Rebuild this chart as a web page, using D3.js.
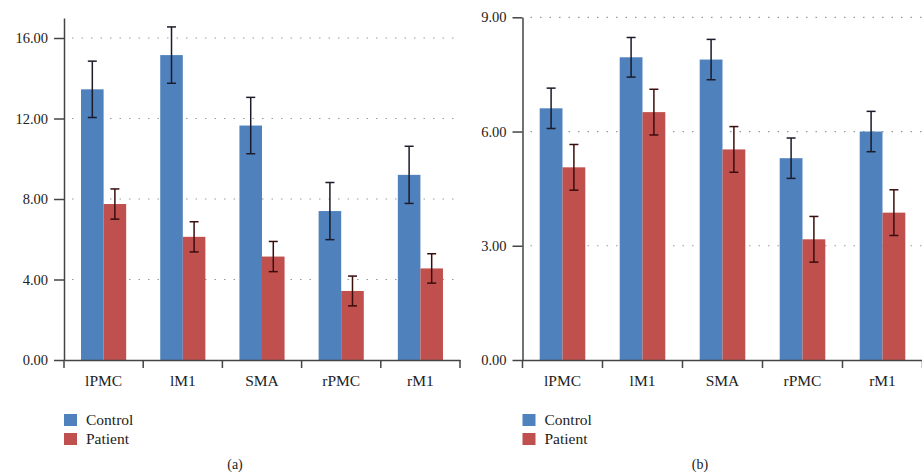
<!DOCTYPE html>
<html>
<head>
<meta charset="utf-8">
<script src="https://cdn.jsdelivr.net/npm/d3@7"></script>
<style>
  html, body { margin: 0; padding: 0; background: #fff; }
  svg { display: block; }
  svg text { font-family: "Liberation Serif", "Times New Roman", Times, "DejaVu Serif", serif !important; fill: #222; }
</style>
</head>
<body>
<svg id="chart" width="922" height="476"></svg>
<script>
// ---- data ----
const categories = ["lPMC", "lM1", "SMA", "rPMC", "rM1"];
const seriesNames = ["Control", "Patient"];

// Panel (a)
const controlA = [13.45, 15.15, 11.65, 7.4, 9.2];
const controlAErr = [1.4, 1.4, 1.4, 1.42, 1.42];
const patientA = [7.75, 6.12, 5.14, 3.43, 4.55];
const patientAErr = [0.75, 0.75, 0.75, 0.74, 0.73];
const ticksA = [0, 4, 8, 12, 16];
const maxA = 17;

// Panel (b)
const controlB = [6.61, 7.95, 7.89, 5.3, 6.0];
const controlBErr = [0.53, 0.52, 0.53, 0.53, 0.53];
const patientB = [5.06, 6.51, 5.53, 3.17, 3.87];
const patientBErr = [0.6, 0.6, 0.6, 0.6, 0.6];
const ticksB = [0, 3, 6, 9];
const maxB = 9;

const colors = { Control: "#4F81BD", Patient: "#C0504D" };
const FONT = "'Liberation Serif', 'Times New Roman', Times, 'DejaVu Serif', serif";

const svg = d3.select("#chart");

function drawPanel(opts) {
  const { x0, x1, yBottom, yTop, max, ticks, control, controlErr, patient, patientErr, caption, captionX } = opts;
  const g = svg.append("g");

  const x = d3.scaleBand().domain(categories).range([x0, x1]).padding(0);
  const bw = x.bandwidth();
  const xs = d3.scaleBand().domain(seriesNames).range([0.215 * bw, 0.785 * bw]).padding(0);
  const y = d3.scaleLinear().domain([0, max]).range([yBottom, yTop]);

  // gridlines
  g.append("g").selectAll("line")
    .data(ticks.filter(t => t > 0))
    .join("line")
    .attr("x1", x0 + 8).attr("x2", x1)
    .attr("y1", d => y(d)).attr("y2", d => y(d))
    .attr("stroke", "#9a9a9a")
    .attr("stroke-width", 1.2)
    .attr("stroke-dasharray", "1.5,8");

  const rows = categories.map((c, i) => ({
    cat: c,
    vals: [
      { s: "Control", v: control[i], e: controlErr[i] },
      { s: "Patient", v: patient[i], e: patientErr[i] }
    ]
  }));

  const groups = g.append("g").selectAll("g")
    .data(rows).join("g")
    .attr("transform", d => `translate(${x(d.cat)},0)`);

  groups.selectAll("rect")
    .data(d => d.vals).join("rect")
    .attr("x", d => xs(d.s))
    .attr("width", xs.bandwidth())
    .attr("y", d => y(d.v))
    .attr("height", d => y(0) - y(d.v))
    .attr("fill", d => colors[d.s]);

  // error bars
  const eb = groups.selectAll("g.eb")
    .data(d => d.vals).join("g").attr("class", "eb")
    .attr("stroke", d => d.s === "Control" ? "#1b1b2a" : "#3a0d0d")
    .attr("stroke-width", 1.5);
  eb.append("line")
    .attr("x1", d => xs(d.s) + xs.bandwidth() / 2)
    .attr("x2", d => xs(d.s) + xs.bandwidth() / 2)
    .attr("y1", d => y(d.v + d.e))
    .attr("y2", d => y(d.v - d.e));
  eb.append("line")
    .attr("x1", d => xs(d.s) + xs.bandwidth() / 2 - 4.5)
    .attr("x2", d => xs(d.s) + xs.bandwidth() / 2 + 4.5)
    .attr("y1", d => y(d.v + d.e)).attr("y2", d => y(d.v + d.e));
  eb.append("line")
    .attr("x1", d => xs(d.s) + xs.bandwidth() / 2 - 4.5)
    .attr("x2", d => xs(d.s) + xs.bandwidth() / 2 + 4.5)
    .attr("y1", d => y(d.v - d.e)).attr("y2", d => y(d.v - d.e));

  // y axis
  const yAxis = g.append("g")
    .attr("transform", `translate(${x0},0)`)
    .call(d3.axisLeft(y).tickValues(ticks).tickFormat(d3.format(".2f")).tickSize(10).tickSizeOuter(0).tickPadding(6));
  yAxis.attr("font-family", null).attr("font-size", null);
  yAxis.selectAll("path, line").attr("stroke", "#444").attr("stroke-width", 1.5);
  yAxis.selectAll("text").style("font-size", "14.5px").style("font-family", FONT).attr("fill", "#222");

  // x axis
  const xAxis = g.append("g")
    .attr("transform", `translate(0,${yBottom})`)
    .call(d3.axisBottom(x).tickSize(0).tickPadding(15));
  xAxis.attr("font-family", null).attr("font-size", null);
  xAxis.select("path").attr("stroke", "#444").attr("stroke-width", 1.5);
  xAxis.selectAll("text").style("font-size", "15.5px").style("font-family", FONT).attr("fill", "#222");
  const edges = categories.map(c => x(c)).concat([x(categories[categories.length - 1]) + bw]);
  xAxis.selectAll("line.edge").data(edges).join("line")
    .attr("class", "edge")
    .attr("x1", d => d).attr("x2", d => d)
    .attr("y1", 0).attr("y2", 8)
    .attr("stroke", "#444").attr("stroke-width", 1.5);

  // legend
  const leg = g.append("g").selectAll("g")
    .data(seriesNames).join("g")
    .attr("transform", (d, i) => `translate(${x0},${414 + i * 19})`);
  leg.append("rect").attr("width", 13).attr("height", 12).attr("fill", d => colors[d]);
  leg.append("text").attr("x", 22).attr("y", 10.5)
    .style("font-size", "15.5px").style("font-family", FONT).text(d => d);

  // caption
  g.append("text").attr("x", captionX).attr("y", 469).attr("text-anchor", "middle")
    .style("font-size", "14px").style("font-family", FONT).text(caption);
}

drawPanel({
  x0: 64, x1: 460, yBottom: 360, yTop: 360 - 17 * 20.125, max: maxA, ticks: ticksA,
  control: controlA, controlErr: controlAErr, patient: patientA, patientErr: patientAErr,
  caption: "(a)", captionX: 235
});
drawPanel({
  x0: 522.5, x1: 922.5, yBottom: 360, yTop: 17.3, max: maxB, ticks: ticksB,
  control: controlB, controlErr: controlBErr, patient: patientB, patientErr: patientBErr,
  caption: "(b)", captionX: 700
});
</script>
</body>
</html>
